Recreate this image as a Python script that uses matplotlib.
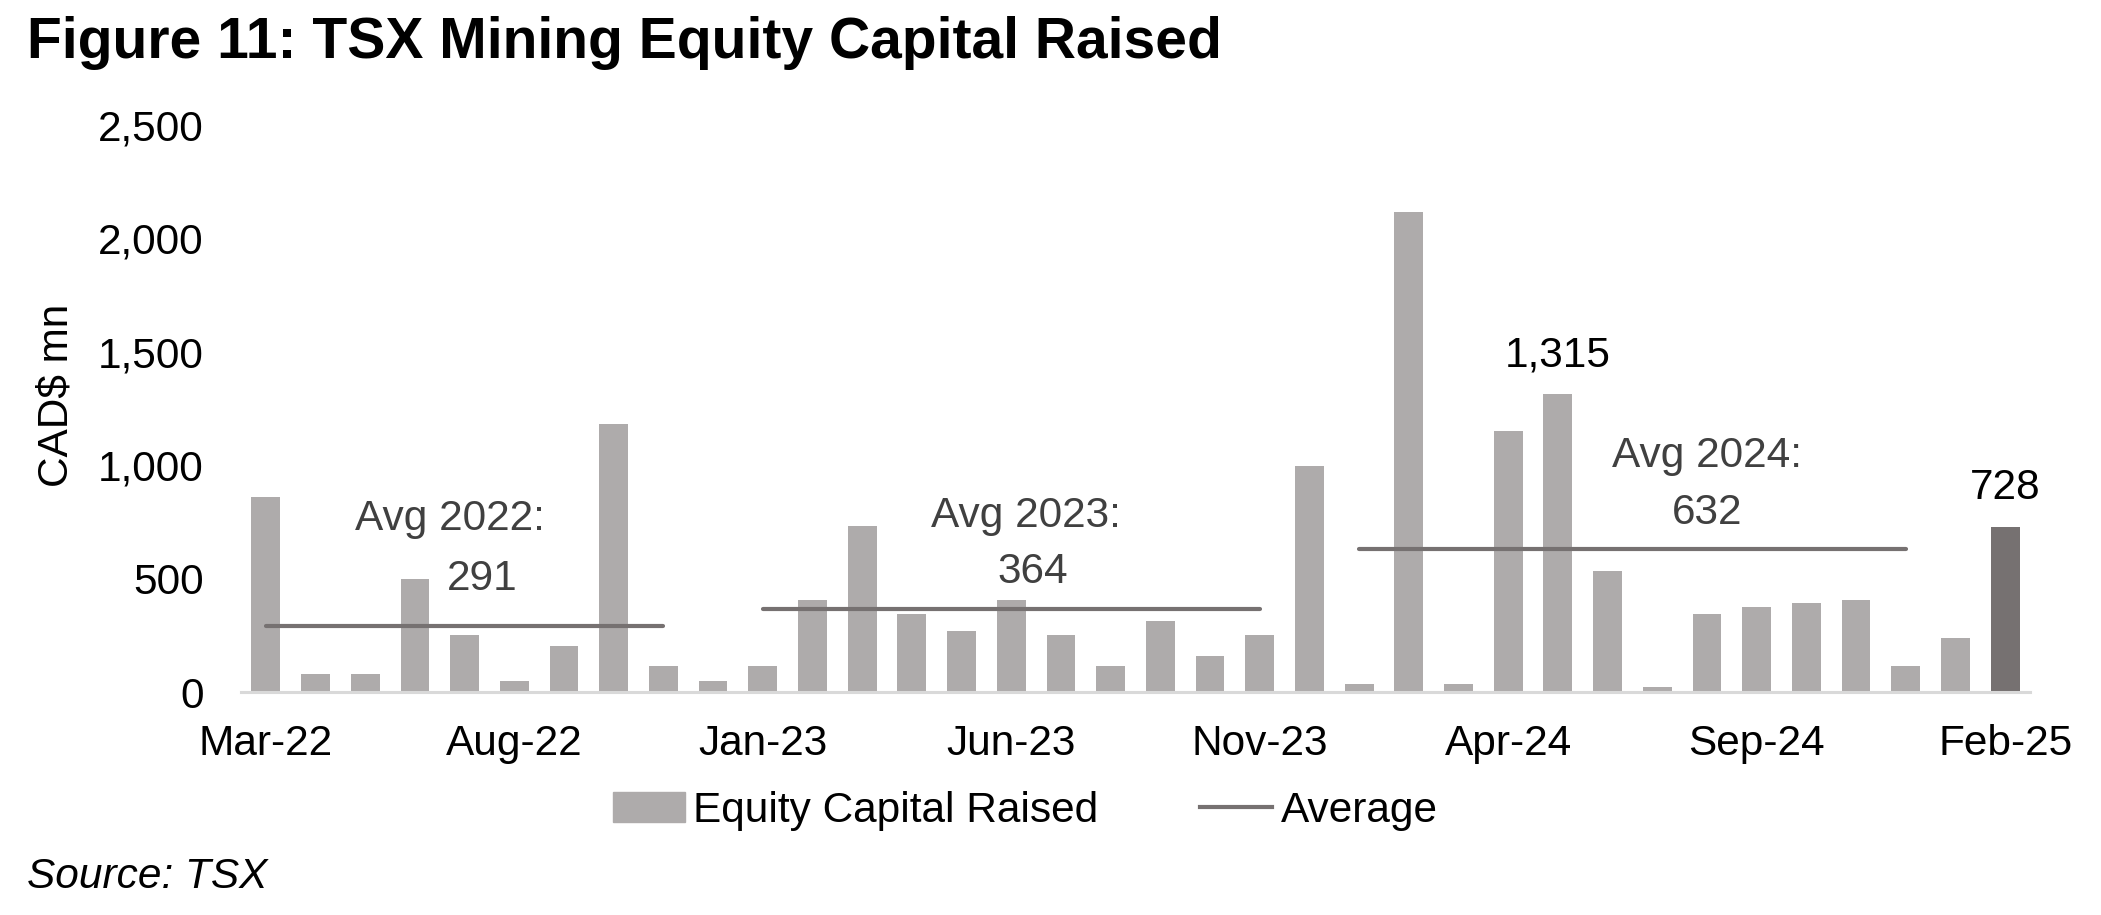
import pandas as pd
import matplotlib
matplotlib.use("Agg")
import matplotlib.pyplot as plt
from matplotlib.patches import Patch
from matplotlib.lines import Line2D

plt.rcParams['font.family'] = ['Liberation Sans', 'DejaVu Sans']

# monthly categories Mar-22 .. Feb-25
months = [d.strftime("%b-%y") for d in pd.date_range("2022-03-01", "2025-02-01", freq="MS")]

# equity capital raised, CAD$ mn
equity = [858, 80, 80, 500, 252, 50, 205, 1183, 113, 50,
          113, 406, 733, 345, 268, 406, 252, 113, 315, 160, 252, 998,
          35, 2115, 35, 1152, 1315, 532, 20, 345, 375, 392, 406, 113,
          237, 728]

# yearly averages and the months each line spans
avg_years = ["2022", "2023", "2024"]
avg_values = [291, 364, 632]
avg_start = ["Mar-22", "Jan-23", "Jan-24"]
avg_end = ["Nov-22", "Nov-23", "Dec-24"]

tick_labels = ["Mar-22", "Aug-22", "Jan-23", "Jun-23", "Nov-23", "Apr-24", "Sep-24", "Feb-25"]
highlight = ["May-24", "Feb-25"]

bar_color = "#AEABAB"
last_color = "#767171"
line_color = "#767171"
fs = 30.5

fig = plt.figure(figsize=(21.01, 9.15), dpi=100)
ax = fig.add_axes([0.1147, 0.2437, 0.8515, 0.6197])

x = list(range(len(months)))
colors = [bar_color] * (len(months) - 1) + [last_color]
ax.bar(x, equity, width=0.58, color=colors, zorder=2)

for yr, val, s, e in zip(avg_years, avg_values, avg_start, avg_end):
    i0, i1 = months.index(s), months.index(e)
    ax.plot([i0, i1], [val, val], color=line_color, lw=3, solid_capstyle="round", zorder=3)

# average labels
ax.text(3.7, 763, "Avg 2022:", ha="center", va="center", fontsize=fs, color="#404040")
ax.text(4.35, 498, "291", ha="center", va="center", fontsize=fs, color="#404040")
ax.text(15.3, 776, "Avg 2023:", ha="center", va="center", fontsize=fs, color="#404040")
ax.text(15.43, 529, "364", ha="center", va="center", fontsize=fs, color="#404040")
ax.text(29.0, 1041, "Avg 2024:", ha="center", va="center", fontsize=fs, color="#404040")
ax.text(29.0, 789, "632", ha="center", va="center", fontsize=fs, color="#404040")

for m in highlight:
    i = months.index(m)
    ax.text(i, equity[i] + 170, f"{equity[i]:,}", ha="center", va="center",
            fontsize=fs, color="black")

ax.set_xlim(-0.5, len(months) - 0.5)
ax.set_ylim(0, 2500)
ax.set_yticks(range(0, 2501, 500))
ax.set_yticklabels([f"{v:,}" for v in range(0, 2501, 500)])
ax.set_xticks([months.index(t) for t in tick_labels])
ax.set_xticklabels(tick_labels)
ax.tick_params(axis="both", length=0, labelsize=fs, colors="black")
ax.tick_params(axis="y", pad=27)
ax.tick_params(axis="x", pad=23)

for side in ["left", "right", "top"]:
    ax.spines[side].set_visible(False)
ax.spines["bottom"].set_color("#D9D9D9")
ax.spines["bottom"].set_linewidth(2.2)

fig.text(0.027, 0.568, "CAD$ mn", rotation=90, ha="center", va="center", fontsize=fs)

fig.text(0.0128, 0.953, "Figure 11: TSX Mining Equity Capital Raised", fontsize=41,
         fontweight="bold", ha="left", va="center")
fig.text(0.0128, 0.042, "Source: TSX", fontsize=fs, style="italic", ha="left", va="center")

handles = [Patch(color=bar_color), Line2D([0], [0], color=line_color, lw=3)]
fig.legend(handles, ["Equity Capital Raised", "Average"], loc="center",
           bbox_to_anchor=(0.488, 0.1137), ncol=2, frameon=False, fontsize=fs,
           handlelength=1.7, handletextpad=0.2, columnspacing=2.4, handleheight=0.7)

fig.savefig("out.png", dpi=100)
